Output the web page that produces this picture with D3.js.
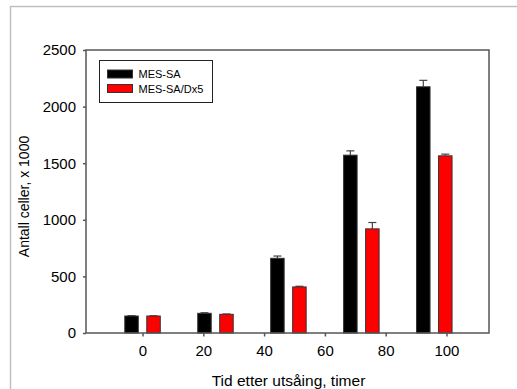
<!DOCTYPE html>
<html>
<head>
<meta charset="utf-8">
<script src="https://cdn.jsdelivr.net/npm/d3@7"></script>
<style>
  html, body { margin: 0; padding: 0; background: #fff; }
  svg { display: block; }
  text { font-family: Arial, "Liberation Sans", sans-serif; fill: #000; }
</style>
</head>
<body>
<svg id="chart" width="517" height="389"></svg>
<script>
// ---- data ----
const times = [0, 24, 48, 72, 96];
const seriesNames = ["MES-SA", "MES-SA/Dx5"];
const mesSA = [150, 174, 660, 1571, 2175];
const mesSAErr = [3, 5, 20, 38, 57];
const dx5 = [150, 165, 407, 920, 1565];
const dx5Err = [2, 3, 6, 56, 15];
const xTicks = [0, 20, 40, 60, 80, 100];
const yTicks = [0, 500, 1000, 1500, 2000, 2500];

const colors = ["#000000", "#ff0000"];
const svg = d3.select("#chart");

// outer gray frame
svg.append("path")
  .attr("d", "M10.5,389 L10.5,6.5 L517,6.5")
  .attr("fill", "none").attr("stroke", "#c0c0c0").attr("stroke-width", 1.5);

const L = 86, R = 489, T = 50, B = 333;
const x = d3.scaleLinear().domain([-18.6, 114]).range([L, R]);
const y = d3.scaleLinear().domain([0, 2500]).range([B, T]);

const barW = 13.5, off = 11;

const series = [
  { vals: mesSA, err: mesSAErr, shift: -off },
  { vals: dx5, err: dx5Err, shift: off }
];

const axisColor = "#555";
const font = "Arial, 'Liberation Sans', sans-serif";

// bars
series.forEach((s, si) => {
  const g = svg.append("g");
  times.forEach((t, i) => {
    const cx = x(t) + s.shift;
    const yTop = y(s.vals[i] + s.err[i]);
    g.append("line").attr("x1", cx).attr("x2", cx)
      .attr("y1", y(s.vals[i])).attr("y2", yTop)
      .attr("stroke", "#444").attr("stroke-width", 1.2);
    g.append("line").attr("x1", cx - 4).attr("x2", cx + 4)
      .attr("y1", yTop).attr("y2", yTop)
      .attr("stroke", "#444").attr("stroke-width", 1.2);
    g.append("rect")
      .attr("x", cx - barW / 2).attr("y", y(s.vals[i]))
      .attr("width", barW).attr("height", y(0) - y(s.vals[i]))
      .attr("fill", colors[si]).attr("stroke", "#333").attr("stroke-width", 1);
  });
});

// frame
svg.append("rect").attr("x", L).attr("y", T).attr("width", R - L).attr("height", B - T)
  .attr("fill", "none").attr("stroke", axisColor).attr("stroke-width", 1.5);

// y axis
const yAxis = svg.append("g").attr("transform", `translate(${L},0)`)
  .call(d3.axisLeft(y).tickValues(yTicks).tickSize(3).tickPadding(7).tickFormat(d3.format("d")));
yAxis.select(".domain").remove();
yAxis.selectAll("line").attr("stroke", axisColor).attr("stroke-width", 1.5);
yAxis.selectAll("text").style("font-size", "15px").style("font-family", font).attr("fill", "#000");

// x axis
const xAxis = svg.append("g").attr("transform", `translate(0,${B})`)
  .call(d3.axisBottom(x).tickValues(xTicks).tickSize(3.5).tickPadding(9).tickFormat(d3.format("d")));
xAxis.select(".domain").remove();
xAxis.selectAll("line").attr("stroke", axisColor).attr("stroke-width", 1.5);
xAxis.selectAll("text").style("font-size", "15px").style("font-family", font).attr("fill", "#000");

// axis labels
svg.append("text")
  .attr("transform", `translate(29,${(T + B) / 2 + 5}) rotate(-90)`)
  .attr("text-anchor", "middle").style("font-size", "14px")
  .text("Antall celler, x 1000");
svg.append("text")
  .attr("x", 288.5).attr("y", 386)
  .attr("text-anchor", "middle").style("font-size", "15.5px")
  .text("Tid etter utsåing, timer");

// legend
const lg = svg.append("g");
lg.append("rect").attr("x", 99.5).attr("y", 60.5).attr("width", 113).attr("height", 42)
  .attr("fill", "#fff").attr("stroke", "#222").attr("stroke-width", 1);
seriesNames.forEach((n, i) => {
  const yy = 70 + i * 14.5;
  lg.append("rect").attr("x", 107.5).attr("y", yy).attr("width", 25).attr("height", 8)
    .attr("fill", colors[i]).attr("stroke", "#333").attr("stroke-width", 1);
  lg.append("text").attr("x", 138.5).attr("y", yy + 8).style("font-size", "11px").text(n);
});
</script>
</body>
</html>
